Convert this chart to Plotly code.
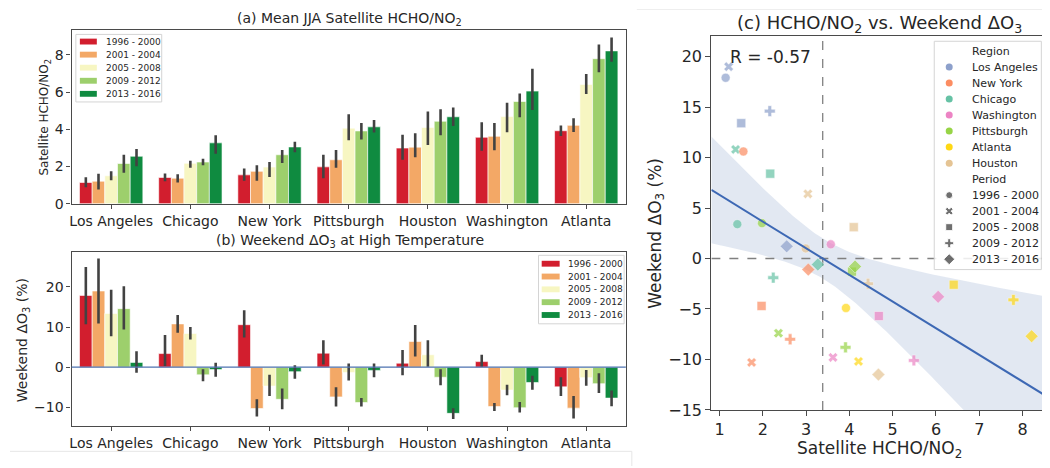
import numpy as np
import plotly.graph_objects as go

# ---------------- data ----------------
cities = ["Los Angeles", "Chicago", "New York", "Pittsburgh", "Houston", "Washington", "Atlanta"]
periods = ["1996 - 2000", "2001 - 2004", "2005 - 2008", "2009 - 2012", "2013 - 2016"]

# mean JJA satellite HCHO/NO2, one list per period (cities in order above)
ratio_1996 = [1.14, 1.41, 1.55, 1.98, 2.99, 3.57, 3.92]
ratio_2001 = [1.21, 1.37, 1.74, 2.36, 3.04, 3.62, 4.21]
ratio_2005 = [1.50, 2.17, 1.97, 4.06, 4.10, 4.68, 6.41]
ratio_2009 = [2.16, 2.24, 2.63, 3.91, 4.43, 5.49, 7.79]
ratio_2013 = [2.55, 3.27, 3.05, 4.13, 4.67, 6.05, 8.21]

ratio_lo_1996 = [0.88, 1.21, 1.23, 1.37, 2.36, 2.84, 3.64]
ratio_lo_2001 = [0.77, 1.14, 1.23, 1.93, 2.49, 2.87, 3.85]
ratio_lo_2005 = [1.26, 1.93, 1.44, 3.41, 3.15, 3.84, 5.90]
ratio_lo_2009 = [1.66, 2.07, 2.19, 3.45, 3.68, 4.64, 7.06]
ratio_lo_2013 = [2.01, 2.68, 2.77, 3.82, 4.17, 5.04, 7.62]

ratio_hi_1996 = [1.42, 1.63, 1.89, 2.63, 3.71, 4.38, 4.20]
ratio_hi_2001 = [1.61, 1.58, 2.07, 2.89, 3.78, 4.34, 4.59]
ratio_hi_2005 = [1.75, 2.31, 2.24, 4.80, 4.96, 5.43, 6.97]
ratio_hi_2009 = [2.63, 2.42, 2.89, 4.34, 5.08, 5.92, 8.55]
ratio_hi_2013 = [2.94, 3.68, 3.33, 4.50, 5.17, 7.25, 8.93]

# weekend delta O3 (%) at high temperature
dO3_1996 = [17.9, 3.4, 10.6, 3.5, 1.0, 1.4, -4.9]
dO3_2001 = [19.0, 10.8, -10.3, -7.4, 6.4, -9.8, -10.2]
dO3_2005 = [13.4, 8.4, -4.7, -1.3, 3.1, -5.7, -2.6]
dO3_2009 = [14.6, -1.9, -8.0, -8.8, -2.5, -10.1, -4.1]
dO3_2013 = [1.2, -0.6, -1.1, -0.8, -11.5, -3.8, -7.7]

dO3_lo_1996 = [10.7, 0.3, 7.4, 0.7, -2.0, 0.1, -7.2]
dO3_lo_2001 = [10.9, 8.6, -12.3, -9.8, 2.7, -10.9, -12.8]
dO3_lo_2005 = [7.7, 6.9, -7.2, -3.3, 0.1, -7.0, -4.6]
dO3_lo_2009 = [9.4, -3.5, -10.5, -9.8, -4.5, -11.3, -6.4]
dO3_lo_2013 = [-1.4, -2.4, -2.9, -2.5, -12.9, -5.6, -9.7]

dO3_hi_1996 = [25.0, 8.0, 14.2, 6.7, 4.3, 3.1, -2.5]
dO3_hi_2001 = [27.1, 13.0, -8.0, -5.0, 10.5, -8.9, -7.2]
dO3_hi_2005 = [19.3, 10.0, -1.9, 0.9, 6.7, -4.4, -0.7]
dO3_hi_2009 = [20.2, -0.5, -5.3, -7.7, -0.5, -8.7, -1.5]
dO3_hi_2013 = [4.0, 1.1, 0.5, 0.9, -10.2, -2.1, -5.8]

region_order = ["Los Angeles", "New York", "Chicago", "Washington", "Pittsburgh", "Atlanta", "Houston"]
region_colors = ["#8da0cb", "#fc8d62", "#66c2a5", "#ec84c4", "#97d446", "#ffd814", "#e5c494"]
period_symbols = ["circle", "x", "square", "cross", "diamond"]
bar_colors = ["#d21e2e", "#f3a866", "#f7f6c2", "#9dcf6c", "#0f8b40"]
r_label = "R = -0.57"

ratio = [ratio_1996, ratio_2001, ratio_2005, ratio_2009, ratio_2013]
ratio_lo = [ratio_lo_1996, ratio_lo_2001, ratio_lo_2005, ratio_lo_2009, ratio_lo_2013]
ratio_hi = [ratio_hi_1996, ratio_hi_2001, ratio_hi_2005, ratio_hi_2009, ratio_hi_2013]
dO3 = [dO3_1996, dO3_2001, dO3_2005, dO3_2009, dO3_2013]
dO3_lo = [dO3_lo_1996, dO3_lo_2001, dO3_lo_2005, dO3_lo_2009, dO3_lo_2013]
dO3_hi = [dO3_hi_1996, dO3_hi_2001, dO3_hi_2005, dO3_hi_2009, dO3_hi_2013]

# ---------------- layout helpers ----------------
W, H = 1050, 468
FONT = "DejaVu Sans"
TXT = "#262626"
FRAME = "#4a4a4a"


def fx(px):
    return px / W


def fy(py):
    return 1 - py / H


fig = go.Figure()

# ---------------- panel (a) and (b) bars ----------------
for k, per in enumerate(periods):
    v = np.array(ratio[k])
    fig.add_trace(go.Bar(
        x=cities, y=v, name=per, marker=dict(color=bar_colors[k], line=dict(color="white", width=0.6)),
        error_y=dict(type="data", symmetric=False, array=np.array(ratio_hi[k]) - v,
                     arrayminus=v - np.array(ratio_lo[k]), width=0, thickness=2.6, color="#424242"),
        xaxis="x", yaxis="y", showlegend=False, offsetgroup=str(k)))
for k, per in enumerate(periods):
    v = np.array(dO3[k])
    fig.add_trace(go.Bar(
        x=cities, y=v, name=per, marker=dict(color=bar_colors[k], line=dict(color="white", width=0.6)),
        error_y=dict(type="data", symmetric=False, array=np.array(dO3_hi[k]) - v,
                     arrayminus=v - np.array(dO3_lo[k]), width=0, thickness=2.6, color="#424242"),
        xaxis="x2", yaxis="y2", showlegend=False, offsetgroup=str(k)))

# ---------------- panel (c) scatter + regression ----------------
x_all = np.array(ratio).T.ravel()
y_all = np.array(dO3).T.ravel()
slope, intercept = np.polyfit(x_all, y_all, 1)
n = len(x_all)
resid = y_all - (slope * x_all + intercept)
s = np.sqrt(np.sum(resid ** 2) / (n - 2))
xbar = x_all.mean()
sxx = np.sum((x_all - xbar) ** 2)
t95 = 2.0345
xs = np.linspace(0.81, 8.55, 120)
yh = slope * xs + intercept
# band shaped to resemble the bootstrap interval in the original
half = t95 * s * np.sqrt(0.68 / n + 1.9 * (xs - xbar) ** 2 / sxx)
x_zero = -intercept / slope

fig.add_trace(go.Scatter(x=np.concatenate([xs, xs[::-1]]), y=np.concatenate([yh + half, (yh - half)[::-1]]),
                         fill="toself", fillcolor="rgba(76,114,176,0.16)", line=dict(width=0),
                         mode="lines", xaxis="x3", yaxis="y3", showlegend=False, hoverinfo="skip"))
fig.add_trace(go.Scatter(x=[0.81, 8.55], y=[0, 0], mode="lines",
                         line=dict(color="#808080", width=1.3, dash="dash"),
                         xaxis="x3", yaxis="y3", showlegend=False))
fig.add_trace(go.Scatter(x=[x_zero, x_zero], y=[-15, 22], mode="lines",
                         line=dict(color="#808080", width=1.3, dash="dash"),
                         xaxis="x3", yaxis="y3", showlegend=False))

for ci, city in enumerate(cities):
    col = region_colors[region_order.index(city)]
    fig.add_trace(go.Scatter(
        x=[ratio[k][ci] for k in range(5)], y=[dO3[k][ci] for k in range(5)], mode="markers",
        marker=dict(color=col, symbol=period_symbols, size=[9, 8.5, 9, 9, 10],
                    line=dict(color="white", width=0.5)),
        xaxis="x3", yaxis="y3", showlegend=False, name=city))

fig.add_trace(go.Scatter(x=xs, y=yh, mode="lines", line=dict(color="#3d68b4", width=2),
                         xaxis="x3", yaxis="y3", showlegend=False))

# zero line for panel (b)
fig.add_shape(type="line", xref="x2 domain", yref="y2", x0=0, x1=1, y0=0, y1=0,
              line=dict(color="#4c72b0", width=1.3), layer="above")


# ---------------- legends (drawn in pixel space of an invisible overlay axis) ----------------
def legend_box(x0, y0, x1, y1):
    fig.add_shape(type="rect", xref="x4", yref="y4", x0=x0, x1=x1, y0=y0, y1=y1,
                  fillcolor="rgba(255,255,255,0.85)", line=dict(color="#d4d4d4", width=1), layer="below")


def bar_legend(x0, y0, x1, y1, sw_x0, sw_x1, tx, rows):
    legend_box(x0, y0, x1, y1)
    for k, per in enumerate(periods):
        yc = rows[k]
        fig.add_shape(type="rect", xref="x4", yref="y4", x0=sw_x0, x1=sw_x1, y0=yc - 3, y1=yc + 3,
                      fillcolor=bar_colors[k], line=dict(width=0), layer="above")
        fig.add_annotation(x=fx(tx), y=fy(yc), xref="paper", yref="paper", text=per, showarrow=False,
                           xanchor="left", yanchor="middle", font=dict(size=9, color=TXT, family=FONT))


bar_legend(66, 27, 152, 96, 70, 87, 94, [34.3 + 13.35 * i for i in range(5)])
bar_legend(529.5, 252.7, 615.3, 322.7, 532.7, 550.7, 557.5, [261.3 + 13.1 * i for i in range(5)])

# scatter legend
legend_box(926, 34, 1033.3, 267.3)
rows_c = [44 + 16.36 * i for i in range(14)]
fig.add_annotation(x=fx(961.7), y=fy(rows_c[0]), xref="paper", yref="paper", text="Region", showarrow=False,
                   xanchor="left", yanchor="middle", font=dict(size=11, color=TXT, family=FONT))
for i, reg in enumerate(region_order):
    fig.add_annotation(x=fx(961.7), y=fy(rows_c[i + 1]), xref="paper", yref="paper", text=reg,
                       showarrow=False, xanchor="left", yanchor="middle",
                       font=dict(size=11, color=TXT, family=FONT))
fig.add_trace(go.Scatter(x=[941] * 7, y=rows_c[1:8], mode="markers",
                         marker=dict(color=region_colors, symbol="circle", size=7),
                         xaxis="x4", yaxis="y4", showlegend=False, hoverinfo="skip"))
fig.add_annotation(x=fx(961.7), y=fy(rows_c[8]), xref="paper", yref="paper", text="Period", showarrow=False,
                   xanchor="left", yanchor="middle", font=dict(size=11, color=TXT, family=FONT))
for i, per in enumerate(periods):
    fig.add_annotation(x=fx(961.7), y=fy(rows_c[9 + i]), xref="paper", yref="paper", text=per,
                       showarrow=False, xanchor="left", yanchor="middle",
                       font=dict(size=11, color=TXT, family=FONT))
fig.add_trace(go.Scatter(x=[941] * 5, y=rows_c[9:14], mode="markers",
                         marker=dict(color="#333333", symbol=period_symbols, size=[7, 7, 7, 7.5, 8.5]),
                         xaxis="x4", yaxis="y4", showlegend=False, hoverinfo="skip"))


# ---------------- titles / axis titles ----------------
def ann(px, py, text, size, angle=0):
    fig.add_annotation(x=fx(px), y=fy(py), xref="paper", yref="paper", text=text, showarrow=False,
                       textangle=angle, xanchor="center", yanchor="middle",
                       font=dict(size=size, color=TXT, family=FONT))


ann(340, 11, "(a) Mean JJA Satellite HCHO/NO<sub>2</sub>", 14)
ann(341, 238, "(b) Weekend ΔO<sub>3</sub> at High Temperature", 14)
ann(871, 16, "(c) HCHO/NO<sub>2</sub> vs. Weekend ΔO<sub>3</sub>", 18)
ann(35, 111, "Satellite HCHO/NO<sub>2</sub>", 12, -90)
ann(12.5, 339, "Weekend ΔO<sub>3</sub> (%)", 14, -90)
ann(871, 451, "Satellite HCHO/NO<sub>2</sub>", 17)
ann(647, 230, "Weekend ΔO<sub>3</sub> (%)", 17, -90)
fig.add_annotation(x=fx(719), y=fy(50.5), xref="paper", yref="paper", text=r_label, showarrow=False,
                   xanchor="left", yanchor="middle", font=dict(size=17, color=TXT, family=FONT))

# faint page separators
fig.add_shape(type="line", xref="paper", yref="paper", x0=0, x1=fx(623), y0=fy(453), y1=fy(453),
              line=dict(color="#e6e6e6", width=1))
fig.add_shape(type="line", xref="paper", yref="paper", x0=fx(623), x1=fx(623), y0=fy(453), y1=0,
              line=dict(color="#e6e6e6", width=1))
fig.add_shape(type="line", xref="paper", yref="paper", x0=fx(628), x1=1, y0=fy(1.5), y1=fy(1.5),
              line=dict(color="#eeeeee", width=1))

axis_common = dict(showline=True, mirror=True, linecolor=FRAME, linewidth=1.3, ticks="outside",
                   ticklen=4, tickwidth=1.1, tickcolor=FRAME, showgrid=False, zeroline=False,
                   tickfont=dict(size=14, color=TXT, family=FONT))
axis_c = {**axis_common, "tickfont": dict(size=16, color=TXT, family=FONT), "ticklen": 5}

fig.update_layout(
    width=W, height=H, margin=dict(l=0, r=0, t=0, b=0),
    paper_bgcolor="white", plot_bgcolor="rgba(0,0,0,0)",
    barmode="group", bargap=0.2, bargroupgap=0,
    font=dict(family=FONT, color=TXT),
    showlegend=False,
    xaxis=dict(domain=[fx(61.7), fx(617)], anchor="y", range=[-0.5, 6.5], **axis_common),
    yaxis=dict(domain=[fy(200), fy(22.7)], anchor="x", range=[0, 9.32], tickvals=[0, 2, 4, 6, 8],
               **axis_common),
    xaxis2=dict(domain=[fx(61.7), fx(617)], anchor="y2", range=[-0.5, 6.5], **axis_common),
    yaxis2=dict(domain=[fy(426.7), fy(249)], anchor="x2", range=[-14.55, 28.8], tickvals=[-10, 0, 10, 20],
                **axis_common),
    xaxis3=dict(domain=[fx(702.7), fx(1038.3)], anchor="y3", range=[0.81, 8.55], dtick=1, **axis_c),
    yaxis3=dict(domain=[fy(410.7), fy(29)], anchor="x3", range=[-15, 22],
                tickvals=[-15, -10, -5, 0, 5, 10, 15, 20], **axis_c),
    xaxis4=dict(domain=[0, 1], anchor="y4", range=[0, W], visible=False, fixedrange=True),
    yaxis4=dict(domain=[0, 1], anchor="x4", range=[H, 0], visible=False, fixedrange=True),
)

fig.write_html("out.html")
